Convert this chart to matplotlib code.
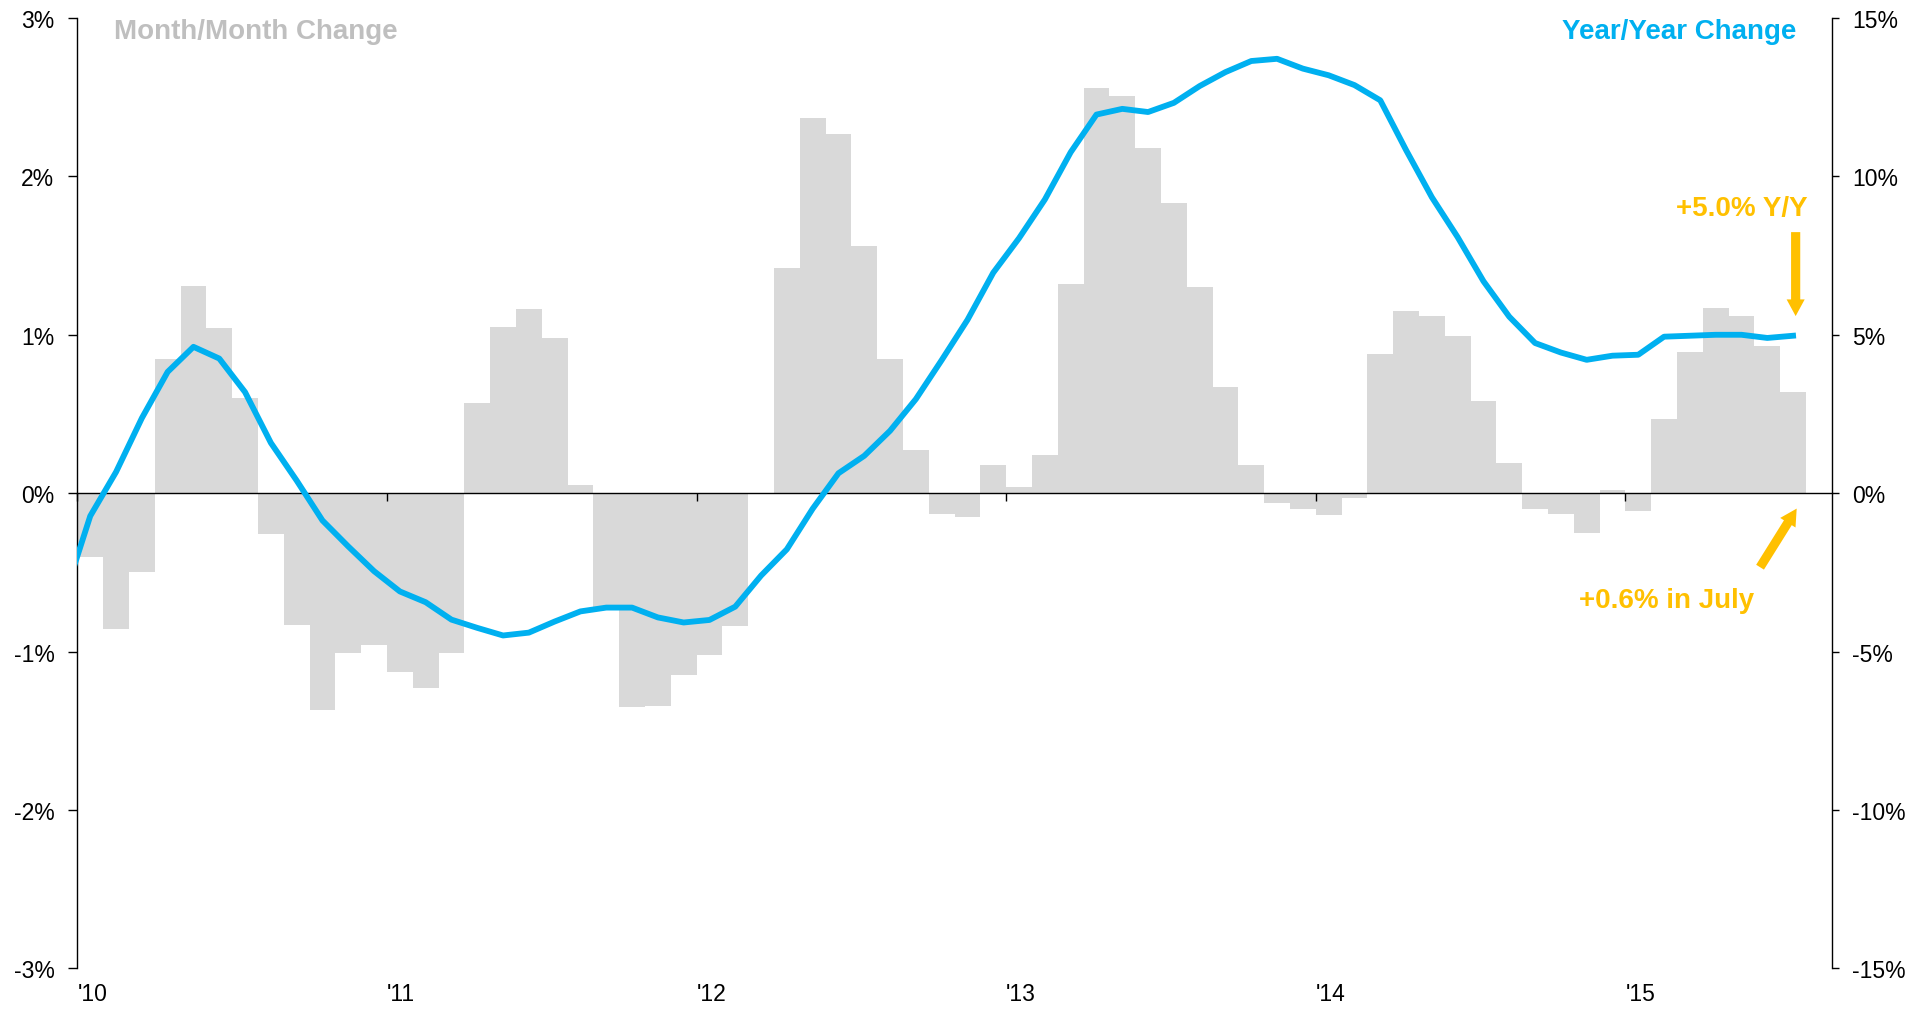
import numpy as np
import matplotlib
matplotlib.use('Agg')
import matplotlib.pyplot as plt

plt.rcParams['font.family'] = ['Liberation Sans', 'DejaVu Sans']

# ── data ─────────────────────────────────────────────────────────────
year_labels = ["'10", "'11", "'12", "'13", "'14", "'15"]

# month/month change, Jan 2010 .. Jul 2015 (%)
mom_change = [
    -0.40, -0.86, -0.50, 0.85, 1.31, 1.04, 0.60, -0.26, -0.83, -1.37, -1.01, -0.96,
    -1.13, -1.23, -1.01, 0.57, 1.05, 1.16, 0.98, 0.05, -0.72, -1.35, -1.34, -1.15,
    -1.02, -0.84, 0.00, 1.42, 2.37, 2.27, 1.56, 0.85, 0.27, -0.13, -0.15, 0.18,
    0.04, 0.24, 1.32, 2.56, 2.51, 2.18, 1.83, 1.30, 0.67, 0.18, -0.06, -0.10,
    -0.14, -0.03, 0.88, 1.15, 1.12, 0.99, 0.58, 0.19, -0.10, -0.13, -0.25, 0.02,
    -0.11, 0.47, 0.89, 1.17, 1.12, 0.93, 0.64,
]

# year/year change, Dec 2009 .. Jul 2015 (%)
yoy_change = [
    -3.25,
    -0.72, 0.67, 2.37, 3.83, 4.62, 4.25, 3.19, 1.59, 0.40, -0.86, -1.68, -2.46,
    -3.10, -3.44, -3.99, -4.25, -4.49, -4.40, -4.05, -3.73, -3.61, -3.61, -3.92, -4.08,
    -4.00, -3.58, -2.60, -1.77, -0.49, 0.63, 1.18, 1.97, 2.97, 4.20, 5.47, 6.96,
    8.05, 9.27, 10.76, 11.95, 12.13, 12.03, 12.32, 12.85, 13.29, 13.64, 13.71, 13.40,
    13.19, 12.88, 12.40, 10.83, 9.34, 8.08, 6.69, 5.57, 4.74, 4.44, 4.21, 4.34,
    4.37, 4.94, 4.97, 5.00, 5.00, 4.90, 4.97,
]

GREY = '#D9D9D9'
LABEL_GREY = '#BFBFBF'
BLUE = '#00B0F0'
GOLD = '#FFC000'

x_bar = np.arange(len(mom_change))
x_line = np.arange(-1, len(mom_change))

fig = plt.figure(figsize=(19.29, 10.12), dpi=100)
ax = fig.add_axes([0.0401, 0.042, 0.9095, 0.9393])

# ── bars: month/month (left axis) ────────────────────────────────────
ax.bar(x_bar, mom_change, width=1.0, color=GREY, linewidth=0, zorder=1)
ax.set_xlim(-0.5, 67.5)
ax.set_ylim(-3, 3)
left_ticks = list(range(-3, 4))
ax.set_yticks(left_ticks)
ax.set_yticklabels([f'{v}%' for v in left_ticks])

ax.spines['top'].set_visible(False)
ax.spines['right'].set_visible(False)
ax.spines['bottom'].set_position(('data', 0))
ax.spines['bottom'].set_linewidth(1.0)
ax.spines['left'].set_linewidth(1.0)

tick_pos = [-0.5 + 12 * k for k in range(len(year_labels))]
ax.set_xticks(tick_pos)
ax.set_xticklabels([])
ax.tick_params(axis='x', direction='out', length=5.5, width=1)
ax.tick_params(axis='y', direction='out', length=6.5, width=1, labelsize=16.5, pad=10)
for pos, lab in zip(tick_pos, year_labels):
    ax.text(pos, -0.026, lab, transform=ax.get_xaxis_transform(),
            ha='left', va='center', fontsize=16.5)

# ── line: year/year (right axis) ─────────────────────────────────────
ax2 = ax.twinx()
ax2.set_ylim(-15, 15)
right_ticks = list(range(-15, 16, 5))
ax2.set_yticks(right_ticks)
ax2.set_yticklabels([f'{v}%' for v in right_ticks])
for side in ['top', 'left', 'bottom']:
    ax2.spines[side].set_visible(False)
ax2.spines['right'].set_linewidth(1.0)
ax2.tick_params(axis='y', direction='out', length=5.3, width=1, labelsize=16.5, pad=9.5)
ax2.plot(x_line, yoy_change, color=BLUE, lw=4.2, solid_joinstyle='round', zorder=3)

# ── series titles ────────────────────────────────────────────────────
ax.text(0.0211, 0.9787, 'Month/Month Change', transform=ax.transAxes,
        ha='left', va='baseline', fontsize=20, fontweight='bold', color=LABEL_GREY)
ax.text(0.9797, 0.9787, 'Year/Year Change', transform=ax.transAxes,
        ha='right', va='baseline', fontsize=20, fontweight='bold', color=BLUE)

# ── callouts ─────────────────────────────────────────────────────────
arrow_style = dict(arrowstyle='simple,head_length=0.6,head_width=0.65,tail_width=0.33',
                   color=GOLD, mutation_scale=20, shrinkA=0, shrinkB=0, linewidth=0)

ax2.text(66.58, 8.77, '+5.0% Y/Y', ha='right', va='baseline',
         fontsize=20, fontweight='bold', color=GOLD)
ax2.annotate('', xy=(66.1, 5.59), xytext=(66.1, 8.24), arrowprops=arrow_style)

ax.text(61.08, -0.721, '+0.6% in July', ha='center', va='baseline',
        fontsize=20, fontweight='bold', color=GOLD)
ax.annotate('', xy=(66.14, -0.097), xytext=(64.72, -0.467), arrowprops=arrow_style)

fig.savefig('out.png', dpi=100)
